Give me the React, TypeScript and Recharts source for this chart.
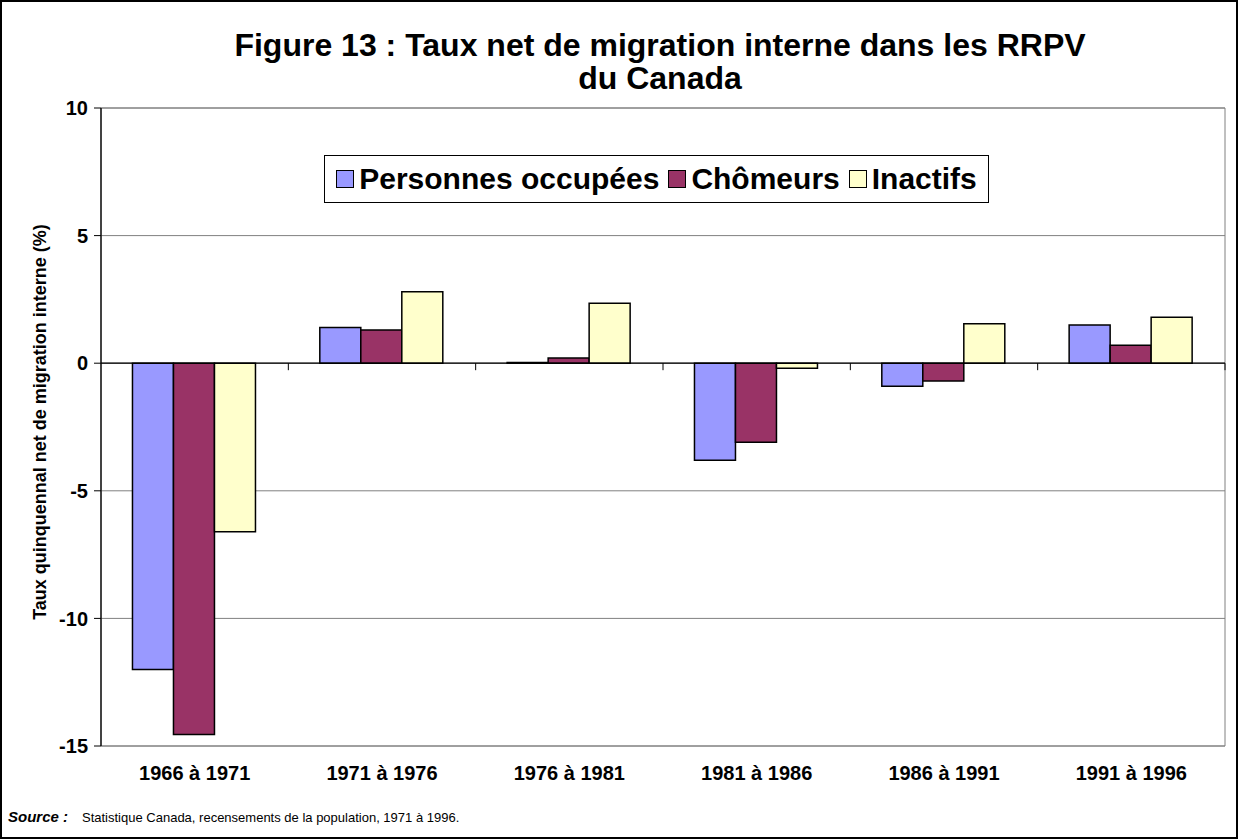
import React from 'react';
import { BarChart, Bar, XAxis, YAxis, CartesianGrid, ReferenceLine, ReferenceArea } from 'recharts';

const categories = ['1966 à 1971', '1971 à 1976', '1976 à 1981', '1981 à 1986', '1986 à 1991', '1991 à 1996'];
const occupees = [-12.0, 1.4, 0.03, -3.8, -0.9, 1.5];
const chomeurs = [-14.55, 1.3, 0.2, -3.1, -0.7, 0.7];
const inactifs = [-6.6, 2.8, 2.35, -0.2, 1.55, 1.8];
const yTicks = [-15, -10, -5, 0, 5, 10];
const seriesKeys = ['occ', 'cho', 'ina'];
const seriesNames = ['Personnes occupées', 'Chômeurs', 'Inactifs'];
const seriesColors = ['#9999FF', '#993366', '#FFFFCC'];
const titleLines = ['Figure 13 : Taux net de migration interne dans les RRPV', 'du Canada'];
const yLabel = 'Taux quinquennal net de migration interne (%)';
const sourceLabel = 'Source :';
const sourceText = 'Statistique Canada, recensements de la population, 1971 à 1996.';

const data = categories.map((c, i) => ({ cat: c, occ: occupees[i], cho: chomeurs[i], ina: inactifs[i] }));

const FONT = 'Arial, "Liberation Sans", sans-serif';

const ZeroLine = (props: any) => {
  const { x1, x2, y1 } = props;
  const n = categories.length;
  const step = (x2 - x1) / n;
  const ticks = [];
  for (let i = 1; i <= n; i++) {
    ticks.push(<line key={i} x1={x1 + step * i} x2={x1 + step * i} y1={y1} y2={y1 + 7} stroke="#000" strokeWidth={1} />);
  }
  return (
    <g>
      <line x1={x1} x2={x2} y1={y1} y2={y1} stroke="#000" strokeWidth={1.3} />
      {ticks}
    </g>
  );
};

const LegendBox = () => (
  <div style={{ position: 'absolute', left: 324, top: 155, width: 665, height: 48, border: '1px solid #000', background: '#fff', boxSizing: 'border-box', display: 'flex', alignItems: 'center', justifyContent: 'center', fontFamily: FONT, fontWeight: 'bold', fontSize: 30, color: '#000', whiteSpace: 'nowrap' }}>
    {seriesNames.map((n, i) => (
      <span key={n} style={{ display: 'inline-flex', alignItems: 'center', marginRight: i < seriesNames.length - 1 ? 9 : 0 }}>
        <span style={{ display: 'inline-block', width: 16, height: 16, background: seriesColors[i], border: '1.5px solid #000', marginRight: 5 }} />
        {n}
      </span>
    ))}
  </div>
);

export default function App() {
  return (
    <div style={{ position: 'absolute', left: 0, top: 0, width: 1238, height: 839, background: '#fff', fontFamily: FONT }}>
      <div style={{ position: 'absolute', left: 0, top: 0, width: 1238, height: 839, boxSizing: 'border-box', border: '2px solid #000' }} />
      <div style={{ position: 'absolute', left: 0, top: 29, width: 1320, textAlign: 'center', fontWeight: 'bold', fontSize: 32, lineHeight: '33px', color: '#000' }}>
        {titleLines.map((t) => (<div key={t}>{t}</div>))}
      </div>
      <BarChart
        width={1238}
        height={839}
        data={data}
        margin={{ top: 108, right: 13, bottom: 63, left: 0 }}
        barCategoryGap="16.8%"
        barGap={0}
        style={{ position: 'absolute', left: 0, top: 0 }}
      >
        <ReferenceArea y1={-15} y2={10} fill="none" stroke="#808080" strokeWidth={1} ifOverflow="extendDomain" />
        <CartesianGrid vertical={false} stroke="#808080" strokeWidth={1} />
        <XAxis
          dataKey="cat"
          height={30}
          axisLine={false}
          tickLine={false}
          tickSize={0}
          tickMargin={20}
          interval={0}
          tick={{ fill: '#000', fontSize: 20, fontWeight: 'bold', fontFamily: FONT }}
        />
        <YAxis
          type="number"
          domain={[-15, 10]}
          ticks={yTicks}
          interval={0}
          width={101}
          axisLine={{ stroke: '#000', strokeWidth: 1.3 }}
          tickLine={{ stroke: '#000' }}
          tickSize={7}
          tickMargin={6}
          tick={{ fill: '#000', fontSize: 20, fontWeight: 'bold', fontFamily: FONT }}
        />
        <ReferenceLine y={0} shape={ZeroLine} />
        {seriesKeys.map((k, i) => (
          <Bar key={k} dataKey={k} name={seriesNames[i]} fill={seriesColors[i]} stroke="#000" strokeWidth={1.5} isAnimationActive={false} />
        ))}
      </BarChart>
      <LegendBox />
      <div style={{ position: 'absolute', left: 40, top: 422, width: 0, height: 0 }}>
        <div style={{ position: 'absolute', transform: 'translate(-50%, -50%) rotate(-90deg)', whiteSpace: 'nowrap', fontWeight: 'bold', fontSize: 18, color: '#000' }}>
          {yLabel}
        </div>
      </div>
      <div style={{ position: 'absolute', left: 8, top: 808, color: '#000', whiteSpace: 'nowrap' }}>
        <span style={{ display: 'inline-block', width: 74, fontWeight: 'bold', fontStyle: 'italic', fontSize: 15 }}>{sourceLabel}</span>
        <span style={{ fontSize: 13 }}>{sourceText}</span>
      </div>
    </div>
  );
}
